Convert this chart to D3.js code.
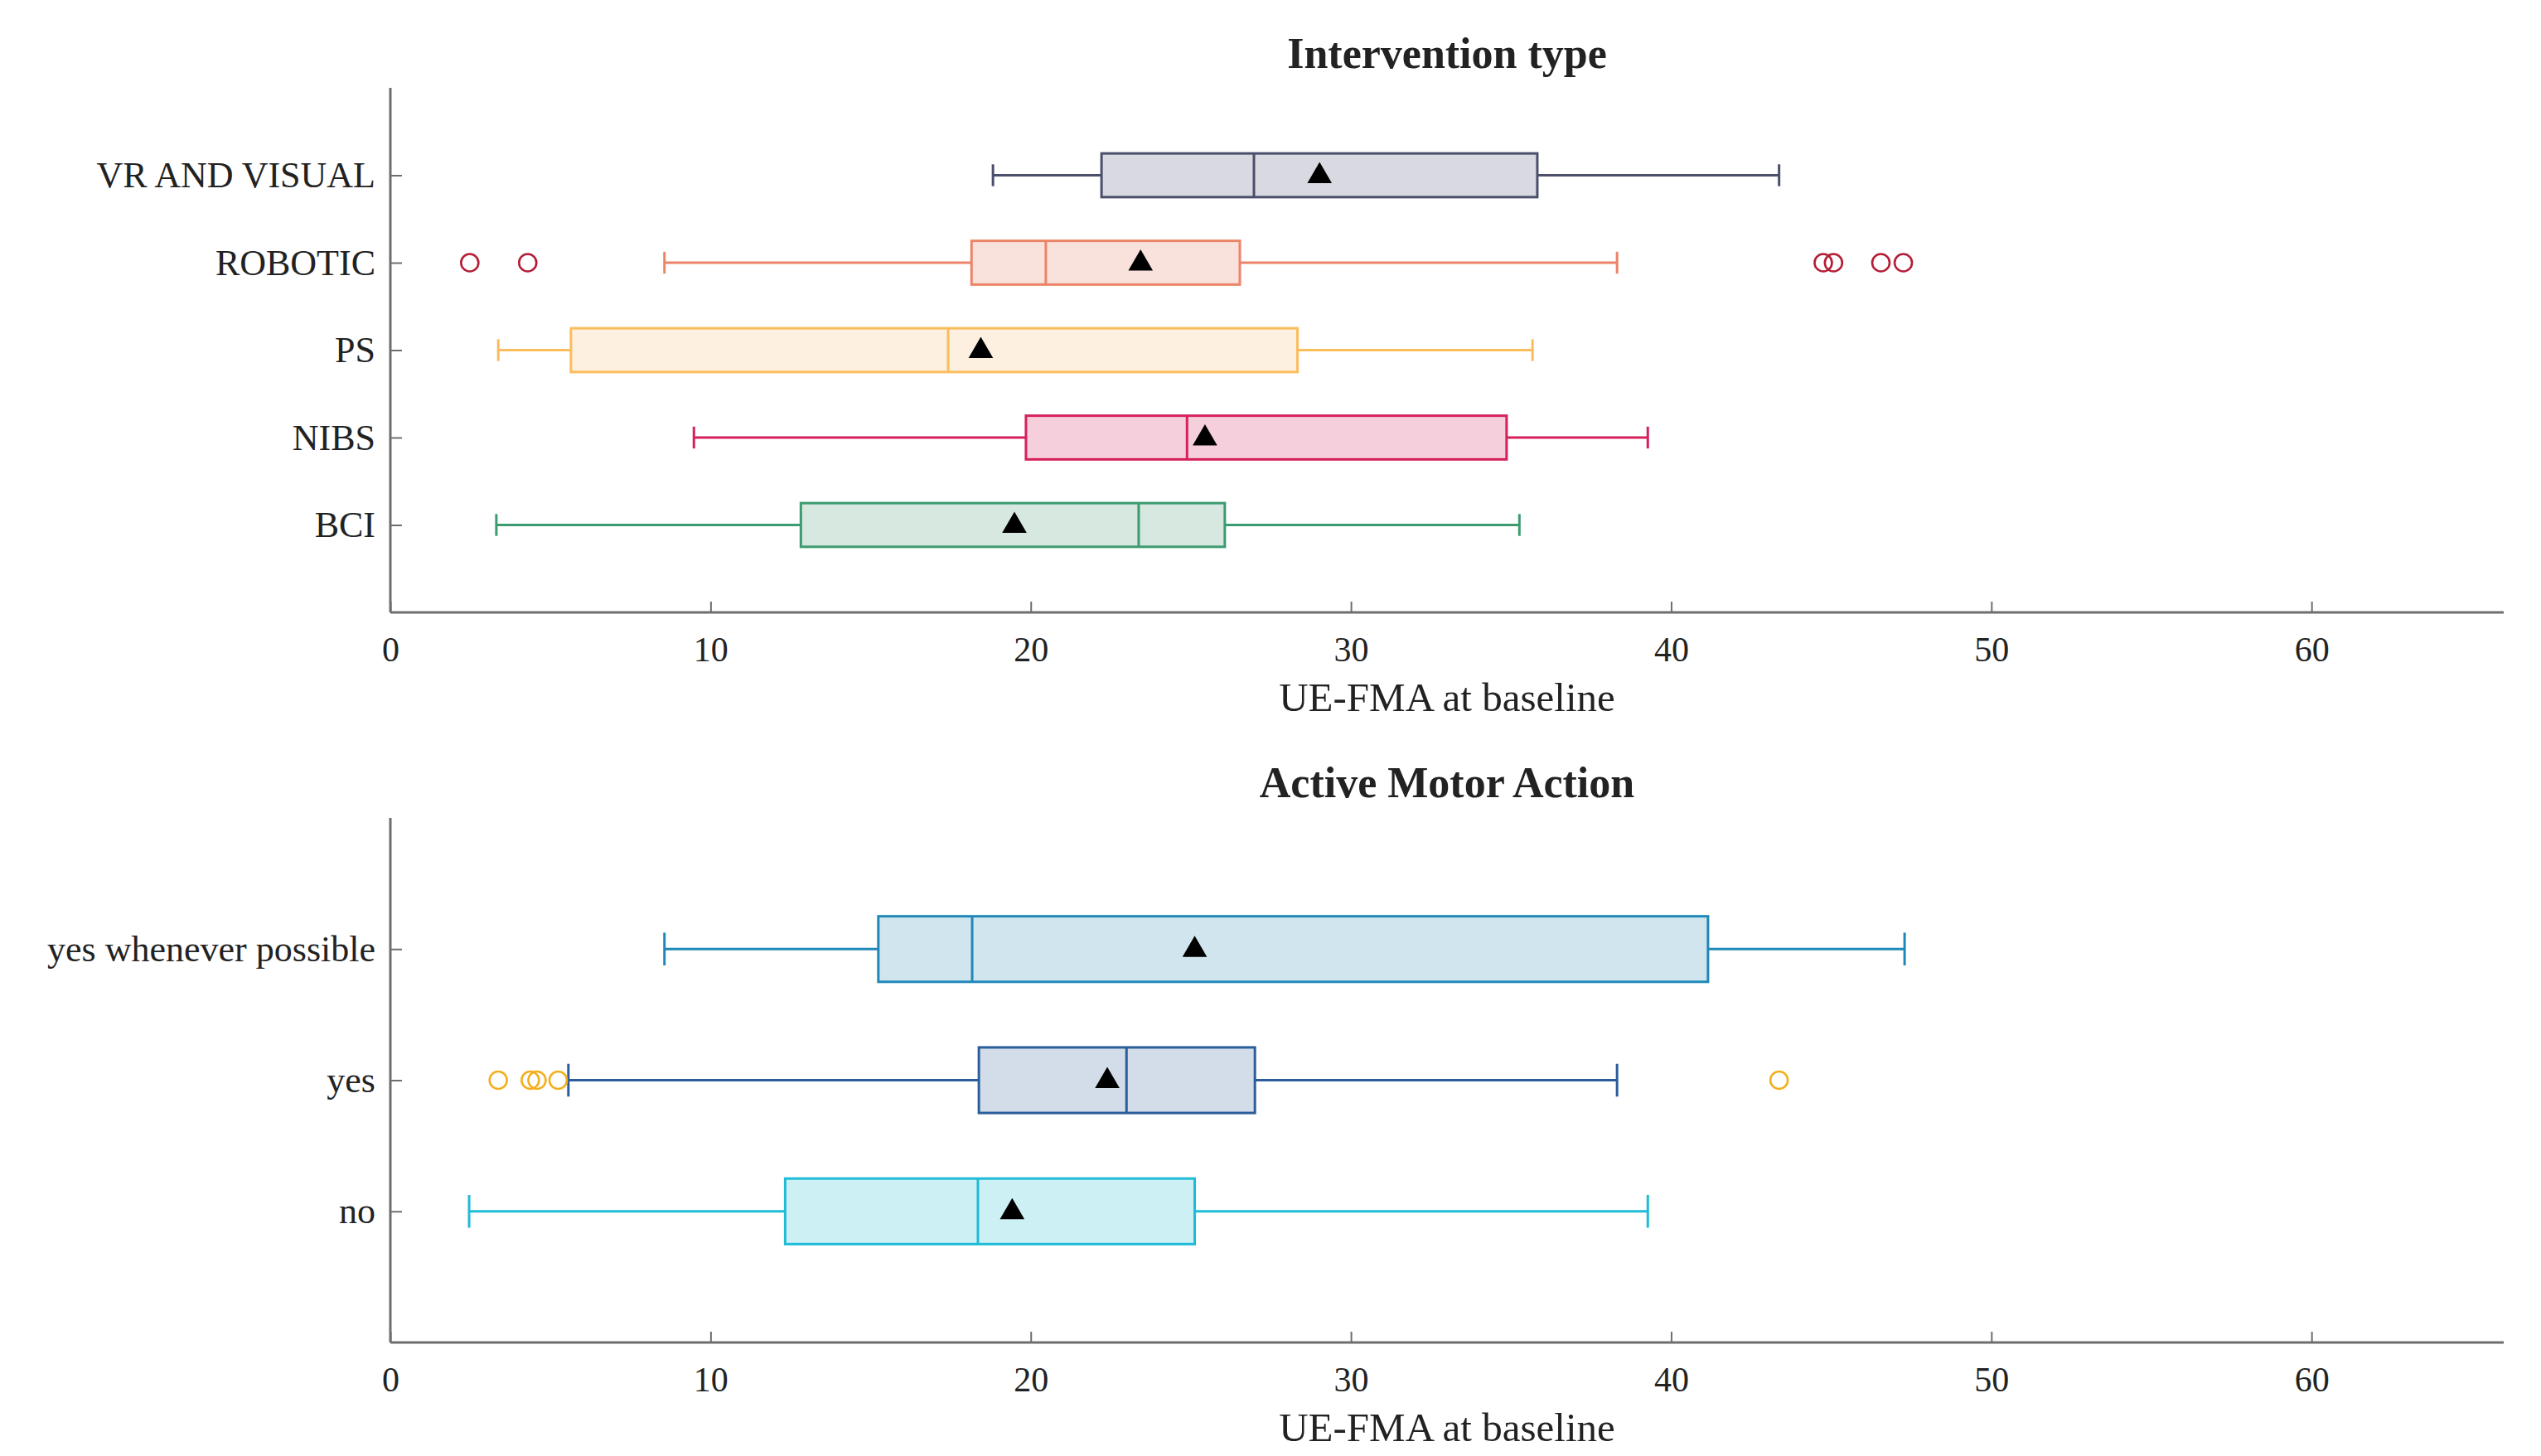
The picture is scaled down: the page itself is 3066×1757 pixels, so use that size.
<!DOCTYPE html>
<html>
<head>
<meta charset="utf-8">
<script src="https://cdn.jsdelivr.net/npm/d3@7"></script>
<style>
  html, body { margin: 0; padding: 0; background: #fff; }
  svg { display: block; }
  text { font-family: "Liberation Serif", "DejaVu Serif", serif; fill: #222; }
</style>
</head>
<body>
<svg id="chart" width="3066" height="1757"></svg>
<script>
// ---------- DATA ----------
const xTicks = [0, 10, 20, 30, 40, 50, 60];
const xLabel = "UE-FMA at baseline";

// Panel 1: Intervention type (bottom to top)
const title1 = "Intervention type";
const groups1 = ["BCI", "NIBS", "PS", "ROBOTIC", "VR AND VISUAL"];
const whiskerLow1  = [3.31, 9.48, 3.37, 8.56, 18.82];
const q1_1         = [12.82, 19.85, 5.64, 18.15, 22.21];
const median1      = [23.37, 24.88, 17.42, 20.47, 26.97];
const q3_1         = [26.06, 34.86, 28.33, 26.53, 35.82];
const whiskerHigh1 = [35.26, 39.27, 35.67, 38.31, 43.37];
const mean1        = [19.49, 25.44, 18.44, 23.43, 29.02];
const outliers1    = [[], [], [], [2.48, 4.29, 44.75, 45.07, 46.55, 47.25], []];

// Panel 2: Active Motor Action (bottom to top)
const title2 = "Active Motor Action";
const groups2 = ["no", "yes", "yes whenever possible"];
const whiskerLow2  = [2.46, 5.56, 8.56];
const q1_2         = [12.33, 18.38, 15.24];
const median2      = [18.35, 22.99, 18.17];
const q3_2         = [25.12, 27.00, 41.15];
const whiskerHigh2 = [39.27, 38.31, 47.29];
const mean2        = [19.42, 22.39, 25.12];
const outliers2    = [[], [3.37, 4.37, 4.58, 5.24, 43.37], []];

// ---------- STYLES ----------
const stroke1 = ["#3c9b70", "#d6205a", "#fbbd5c", "#ec8468", "#4b4f6b"];
const fill1   = ["#d6e8e0", "#f5d0dc", "#fdf0e0", "#f9e1dc", "#d8d9e1"];
const outColor1 = "#b51d35";
const stroke2 = ["#1ebcd6", "#2b5d9a", "#2088b8"];
const fill2   = ["#cdf0f5", "#d3dde9", "#d0e5ee"];
const outColor2 = "#f2b01e";

const svg = d3.select("#chart");
const X0 = 471, X1 = 3021;

function panel(cfg) {
  const g = svg.append("g");
  const n = cfg.groups.length;
  const x = d3.scaleLinear().domain([0, 66]).range([X0, X1]);
  const y = d3.scaleLinear().domain([0, n + 1]).range([cfg.bottom, cfg.top]);
  const unit = y(0) - y(1);
  const boxH = unit * 0.5;
  const capH = unit * 0.25;

  const rows = cfg.groups.map((name, i) => ({
    name, i,
    lo: cfg.lo[i], q1: cfg.q1[i], med: cfg.med[i], q3: cfg.q3[i], hi: cfg.hi[i],
    mean: cfg.mean[i], out: cfg.out[i],
    stroke: cfg.stroke[i], fill: cfg.fill[i]
  }));

  // Axes
  const axisColor = "#6e6e6e";
  const xAxis = g.append("g").attr("transform", `translate(0,${cfg.bottom})`)
    .call(d3.axisBottom(x).tickValues(cfg.ticks).tickSize(-13).tickPadding(0).tickFormat(d3.format("d")));
  xAxis.select(".domain").remove();
  xAxis.selectAll(".tick line").attr("stroke", axisColor).attr("stroke-width", 2);
  xAxis.selectAll(".tick text").attr("font-size", 42).attr("dy", "1.4em").attr("fill", "#222")
    .style("font-family", '"Liberation Serif", serif');
  g.append("line").attr("x1", X0).attr("x2", X1).attr("y1", cfg.bottom).attr("y2", cfg.bottom)
    .attr("stroke", axisColor).attr("stroke-width", 3);

  const yAxis = g.append("g").attr("transform", `translate(${X0},0)`)
    .call(d3.axisLeft(y).tickValues(d3.range(1, n + 1)).tickSize(-14).tickPadding(18)
      .tickFormat(d => cfg.groups[d - 1]));
  yAxis.select(".domain").remove();
  yAxis.selectAll(".tick line").attr("stroke", axisColor).attr("stroke-width", 2);
  yAxis.selectAll(".tick text").attr("font-size", 44).attr("fill", "#222")
    .style("font-family", '"Liberation Serif", serif');
  g.append("line").attr("x1", X0).attr("x2", X0).attr("y1", cfg.top).attr("y2", cfg.bottom)
    .attr("stroke", axisColor).attr("stroke-width", 3);

  // Boxes
  const b = g.selectAll("g.box").data(rows).join("g").attr("class", "box");
  // whiskers
  b.append("line").attr("x1", d => x(d.lo)).attr("x2", d => x(d.q1))
    .attr("y1", d => y(d.i + 1)).attr("y2", d => y(d.i + 1))
    .attr("stroke", d => d.stroke).attr("stroke-width", 3);
  b.append("line").attr("x1", d => x(d.q3)).attr("x2", d => x(d.hi))
    .attr("y1", d => y(d.i + 1)).attr("y2", d => y(d.i + 1))
    .attr("stroke", d => d.stroke).attr("stroke-width", 3);
  // caps
  b.append("line").attr("x1", d => x(d.lo)).attr("x2", d => x(d.lo))
    .attr("y1", d => y(d.i + 1) - capH / 2).attr("y2", d => y(d.i + 1) + capH / 2)
    .attr("stroke", d => d.stroke).attr("stroke-width", 3);
  b.append("line").attr("x1", d => x(d.hi)).attr("x2", d => x(d.hi))
    .attr("y1", d => y(d.i + 1) - capH / 2).attr("y2", d => y(d.i + 1) + capH / 2)
    .attr("stroke", d => d.stroke).attr("stroke-width", 3);
  // box
  b.append("rect").attr("x", d => x(d.q1)).attr("width", d => x(d.q3) - x(d.q1))
    .attr("y", d => y(d.i + 1) - boxH / 2).attr("height", boxH)
    .attr("fill", d => d.fill).attr("stroke", d => d.stroke).attr("stroke-width", 3);
  // median
  b.append("line").attr("x1", d => x(d.med)).attr("x2", d => x(d.med))
    .attr("y1", d => y(d.i + 1) - boxH / 2).attr("y2", d => y(d.i + 1) + boxH / 2)
    .attr("stroke", d => d.stroke).attr("stroke-width", 3);
  // outliers
  b.selectAll("circle").data(d => d.out.map(v => ({ v, i: d.i }))).join("circle")
    .attr("cx", o => x(o.v)).attr("cy", o => y(o.i + 1)).attr("r", 10.5)
    .attr("fill", "none").attr("stroke", cfg.outColor).attr("stroke-width", 2.6);
  // mean triangles
  const tri = d3.symbol().type(d3.symbolTriangle).size(380);
  b.append("path").attr("d", tri)
    .attr("transform", d => `translate(${x(d.mean)},${y(d.i + 1) + 1})`)
    .attr("fill", "#000");

  // Title & label
  g.append("text").attr("x", (X0 + X1) / 2).attr("y", cfg.titleY).attr("text-anchor", "middle")
    .attr("font-size", 52).attr("font-weight", "bold").attr("fill", "#111").text(cfg.title);
  g.append("text").attr("x", (X0 + X1) / 2).attr("y", cfg.bottom + 119).attr("text-anchor", "middle")
    .attr("font-size", 49).attr("fill", "#222").text(xLabel);
}

panel({
  groups: groups1, lo: whiskerLow1, q1: q1_1, med: median1, q3: q3_1, hi: whiskerHigh1,
  mean: mean1, out: outliers1, stroke: stroke1, fill: fill1, outColor: outColor1,
  top: 106, bottom: 739, titleY: 82, title: title1, ticks: xTicks
});
panel({
  groups: groups2, lo: whiskerLow2, q1: q1_2, med: median2, q3: q3_2, hi: whiskerHigh2,
  mean: mean2, out: outliers2, stroke: stroke2, fill: fill2, outColor: outColor2,
  top: 987, bottom: 1620, titleY: 962, title: title2, ticks: xTicks
});
</script>
</body>
</html>
